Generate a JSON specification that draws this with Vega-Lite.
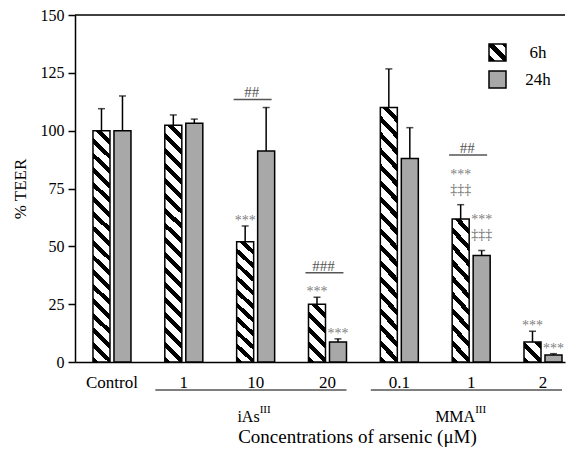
{
"$schema": "https://vega.github.io/schema/vega-lite/v6.json",
"width": 490, "height": 347,
"autosize": {"type": "none"},
"padding": {"left": 75, "top": 15, "right": 3, "bottom": 87},
"config": {"view": {"stroke": null}, "font": "Liberation Serif",
 "axis": {"labelFont": "Liberation Serif", "titleFont": "Liberation Serif"},
 "legend": {"labelFont": "Liberation Serif"},
 "text": {"font": "Liberation Serif"}},
"params": [{"name": "g6h", "value": {"gradient": "linear", "x1": 0, "y1": 1, "x2": 1, "y2": 0, "stops": [
 {"offset": 0, "color": "#000"}, {"offset": 0.18, "color": "#000"}, {"offset": 0.18, "color": "#fff"}, {"offset": 0.44, "color": "#fff"},
 {"offset": 0.44, "color": "#000"}, {"offset": 0.62, "color": "#000"}, {"offset": 0.62, "color": "#fff"}, {"offset": 0.88, "color": "#fff"},
 {"offset": 0.88, "color": "#000"}, {"offset": 1, "color": "#000"}]}}],
"datasets": {
 "bars": [
  {"grp": "Control", "time": "6h", "mean": 100, "hi": 109.5, "star": "", "dag": ""},
  {"grp": "Control", "time": "24h", "mean": 100, "hi": 115, "star": "", "dag": ""},
  {"grp": "iAs 1", "time": "6h", "mean": 102.3, "hi": 106.8, "star": "", "dag": ""},
  {"grp": "iAs 1", "time": "24h", "mean": 103.2, "hi": 105, "star": "", "dag": ""},
  {"grp": "iAs 10", "time": "6h", "mean": 52, "hi": 58.8, "star": "***", "dag": ""},
  {"grp": "iAs 10", "time": "24h", "mean": 91.2, "hi": 110, "star": "", "dag": ""},
  {"grp": "iAs 20", "time": "6h", "mean": 25, "hi": 28, "star": "***", "dag": ""},
  {"grp": "iAs 20", "time": "24h", "mean": 8.6, "hi": 10, "star": "***", "dag": ""},
  {"grp": "MMA 0.1", "time": "6h", "mean": 110, "hi": 126.7, "star": "", "dag": ""},
  {"grp": "MMA 0.1", "time": "24h", "mean": 88, "hi": 101.3, "star": "", "dag": ""},
  {"grp": "MMA 1", "time": "6h", "mean": 61.8, "hi": 68, "star": "***", "dag": "‡‡‡"},
  {"grp": "MMA 1", "time": "24h", "mean": 46, "hi": 48.2, "star": "***", "dag": "‡‡‡"},
  {"grp": "MMA 2", "time": "6h", "mean": 8.6, "hi": 13.3, "star": "***", "dag": ""},
  {"grp": "MMA 2", "time": "24h", "mean": 3, "hi": 3.6, "star": "***", "dag": ""}
 ],
 "sig": [
  {"grp": "iAs 10", "sig": "##", "ly": 113.5},
  {"grp": "iAs 20", "sig": "###", "ly": 38.6},
  {"grp": "MMA 1", "sig": "##", "ly": 89.5}
 ],
 "under": [
  {"grp": "iAs 1", "grp2": "iAs 20"},
  {"grp": "MMA 0.1", "grp2": "MMA 2"}
 ],
 "groups": [
  {"grp": "iAs 10", "name": "iAs"},
  {"grp": "MMA 1", "name": "MMA"}
 ]
},
"layer": [
 {
  "data": {"name": "bars"},
  "mark": {"type": "bar", "stroke": "black", "strokeWidth": 1.5},
  "encoding": {
   "x": {"field": "grp", "type": "nominal", "sort": null,
    "scale": {"domain": ["Control", "iAs 1", "iAs 10", "iAs 20", "MMA 0.1", "MMA 1", "MMA 2"], "paddingInner": 0.471, "paddingOuter": 0.146, "align": 0.857},
    "axis": {"title": "Concentrations of arsenic (μM)", "labelExpr": "indexof(datum.value, ' ') > 0 ? substring(datum.value, indexof(datum.value, ' ') + 1) : datum.value",
     "ticks": false, "tickSize": 0, "domainColor": "black", "domainWidth": 1.5, "labelFont": "Liberation Serif", "labelFontSize": 17, "labelColor": "black", "labelPadding": 12, "labelAngle": 0,
     "titleFont": "Liberation Serif", "titleFontSize": 19, "titleFontWeight": "normal", "titleColor": "black", "titleX": 282, "titleY": 80, "titleBaseline": "alphabetic"}},
   "xOffset": {"field": "time", "type": "nominal", "sort": null, "scale": {"domain": ["6h", "24h"], "paddingInner": 0.19, "paddingOuter": 0}},
   "y": {"field": "mean", "type": "quantitative", "scale": {"domain": [0, 150], "nice": false},
    "axis": {"values": [0, 25, 50, 75, 100, 125, 150], "title": "% TEER", "grid": false, "tickSize": 7, "tickWidth": 1.5, "tickColor": "black",
     "domainColor": "black", "domainWidth": 1.5, "labelFont": "Liberation Serif", "labelFontSize": 16, "labelColor": "black", "labelPadding": 4,
     "titleFont": "Liberation Serif", "titleFontSize": 17, "titleFontWeight": "normal", "titleColor": "black", "titlePadding": 11}},
   "fill": {
    "condition": [
     {"test": "datum.time == '6h' && datum.mean > 90", "value": {"gradient": "linear", "x1": 0, "y1": 1, "x2": 0.0755, "y2": -0.0655, "stops": [
      {"offset": 0, "color": "#000"}, {"offset": 0.0235, "color": "#000"}, {"offset": 0.0235, "color": "#fff"}, {"offset": 0.0588, "color": "#fff"},
      {"offset": 0.0588, "color": "#000"}, {"offset": 0.0824, "color": "#000"}, {"offset": 0.0824, "color": "#fff"}, {"offset": 0.1176, "color": "#fff"},
      {"offset": 0.1176, "color": "#000"}, {"offset": 0.1412, "color": "#000"}, {"offset": 0.1412, "color": "#fff"}, {"offset": 0.1765, "color": "#fff"},
      {"offset": 0.1765, "color": "#000"}, {"offset": 0.2, "color": "#000"}, {"offset": 0.2, "color": "#fff"}, {"offset": 0.2353, "color": "#fff"},
      {"offset": 0.2353, "color": "#000"}, {"offset": 0.2588, "color": "#000"}, {"offset": 0.2588, "color": "#fff"}, {"offset": 0.2941, "color": "#fff"},
      {"offset": 0.2941, "color": "#000"}, {"offset": 0.3176, "color": "#000"}, {"offset": 0.3176, "color": "#fff"}, {"offset": 0.3529, "color": "#fff"},
      {"offset": 0.3529, "color": "#000"}, {"offset": 0.3765, "color": "#000"}, {"offset": 0.3765, "color": "#fff"}, {"offset": 0.4118, "color": "#fff"},
      {"offset": 0.4118, "color": "#000"}, {"offset": 0.4353, "color": "#000"}, {"offset": 0.4353, "color": "#fff"}, {"offset": 0.4706, "color": "#fff"},
      {"offset": 0.4706, "color": "#000"}, {"offset": 0.4941, "color": "#000"}, {"offset": 0.4941, "color": "#fff"}, {"offset": 0.5294, "color": "#fff"},
      {"offset": 0.5294, "color": "#000"}, {"offset": 0.5529, "color": "#000"}, {"offset": 0.5529, "color": "#fff"}, {"offset": 0.5882, "color": "#fff"},
      {"offset": 0.5882, "color": "#000"}, {"offset": 0.6118, "color": "#000"}, {"offset": 0.6118, "color": "#fff"}, {"offset": 0.6471, "color": "#fff"},
      {"offset": 0.6471, "color": "#000"}, {"offset": 0.6706, "color": "#000"}, {"offset": 0.6706, "color": "#fff"}, {"offset": 0.7059, "color": "#fff"},
      {"offset": 0.7059, "color": "#000"}, {"offset": 0.7294, "color": "#000"}, {"offset": 0.7294, "color": "#fff"}, {"offset": 0.7647, "color": "#fff"},
      {"offset": 0.7647, "color": "#000"}, {"offset": 0.7882, "color": "#000"}, {"offset": 0.7882, "color": "#fff"}, {"offset": 0.8235, "color": "#fff"},
      {"offset": 0.8235, "color": "#000"}, {"offset": 0.8471, "color": "#000"}, {"offset": 0.8471, "color": "#fff"}, {"offset": 0.8824, "color": "#fff"},
      {"offset": 0.8824, "color": "#000"}, {"offset": 0.9059, "color": "#000"}, {"offset": 0.9059, "color": "#fff"}, {"offset": 0.9412, "color": "#fff"},
      {"offset": 0.9412, "color": "#000"}, {"offset": 0.9647, "color": "#000"}, {"offset": 0.9647, "color": "#fff"}, {"offset": 1, "color": "#fff"}]}},
     {"test": "datum.time == '6h' && datum.mean > 40 && datum.mean <= 90", "value": {"gradient": "linear", "x1": 0, "y1": 1, "x2": 0.1442, "y2": -0.111, "stops": [
      {"offset": 0, "color": "#000"}, {"offset": 0.04, "color": "#000"}, {"offset": 0.04, "color": "#fff"}, {"offset": 0.1, "color": "#fff"},
      {"offset": 0.1, "color": "#000"}, {"offset": 0.14, "color": "#000"}, {"offset": 0.14, "color": "#fff"}, {"offset": 0.2, "color": "#fff"},
      {"offset": 0.2, "color": "#000"}, {"offset": 0.24, "color": "#000"}, {"offset": 0.24, "color": "#fff"}, {"offset": 0.3, "color": "#fff"},
      {"offset": 0.3, "color": "#000"}, {"offset": 0.34, "color": "#000"}, {"offset": 0.34, "color": "#fff"}, {"offset": 0.4, "color": "#fff"},
      {"offset": 0.4, "color": "#000"}, {"offset": 0.44, "color": "#000"}, {"offset": 0.44, "color": "#fff"}, {"offset": 0.5, "color": "#fff"},
      {"offset": 0.5, "color": "#000"}, {"offset": 0.54, "color": "#000"}, {"offset": 0.54, "color": "#fff"}, {"offset": 0.6, "color": "#fff"},
      {"offset": 0.6, "color": "#000"}, {"offset": 0.64, "color": "#000"}, {"offset": 0.64, "color": "#fff"}, {"offset": 0.7, "color": "#fff"},
      {"offset": 0.7, "color": "#000"}, {"offset": 0.74, "color": "#000"}, {"offset": 0.74, "color": "#fff"}, {"offset": 0.8, "color": "#fff"},
      {"offset": 0.8, "color": "#000"}, {"offset": 0.84, "color": "#000"}, {"offset": 0.84, "color": "#fff"}, {"offset": 0.9, "color": "#fff"},
      {"offset": 0.9, "color": "#000"}, {"offset": 0.94, "color": "#000"}, {"offset": 0.94, "color": "#fff"}, {"offset": 1, "color": "#fff"}]}},
     {"test": "datum.time == '6h' && datum.mean > 15 && datum.mean <= 40", "value": {"gradient": "linear", "x1": 0, "y1": 1, "x2": 0.349, "y2": -0.1908, "stops": [
      {"offset": 0, "color": "#000"}, {"offset": 0.08, "color": "#000"}, {"offset": 0.08, "color": "#fff"}, {"offset": 0.2, "color": "#fff"},
      {"offset": 0.2, "color": "#000"}, {"offset": 0.28, "color": "#000"}, {"offset": 0.28, "color": "#fff"}, {"offset": 0.4, "color": "#fff"},
      {"offset": 0.4, "color": "#000"}, {"offset": 0.48, "color": "#000"}, {"offset": 0.48, "color": "#fff"}, {"offset": 0.6, "color": "#fff"},
      {"offset": 0.6, "color": "#000"}, {"offset": 0.68, "color": "#000"}, {"offset": 0.68, "color": "#fff"}, {"offset": 0.8, "color": "#fff"},
      {"offset": 0.8, "color": "#000"}, {"offset": 0.88, "color": "#000"}, {"offset": 0.88, "color": "#fff"}, {"offset": 1, "color": "#fff"}]}},
     {"test": "datum.time == '6h' && datum.mean <= 15", "value": {"gradient": "linear", "x1": 0, "y1": 1, "x2": 0.913, "y2": -0.074, "stops": [
      {"offset": 0, "color": "#000"}, {"offset": 0.16, "color": "#000"}, {"offset": 0.16, "color": "#fff"}, {"offset": 0.4, "color": "#fff"},
      {"offset": 0.4, "color": "#000"}, {"offset": 0.56, "color": "#000"}, {"offset": 0.56, "color": "#fff"}, {"offset": 0.8, "color": "#fff"},
      {"offset": 0.8, "color": "#000"}, {"offset": 0.96, "color": "#000"}, {"offset": 0.96, "color": "#fff"}, {"offset": 1, "color": "#fff"}]}}
    ],
    "field": "time", "type": "nominal", "sort": null,
    "scale": {"domain": ["6h", "24h"], "range": [{"expr": "g6h"}, "#a8a8a8"]},
    "legend": {"orient": "none", "legendX": 413, "legendY": 28, "title": null, "symbolType": "square", "symbolSize": 289,
     "symbolStrokeColor": "black", "symbolStrokeWidth": 1.5, "labelFontSize": 17, "labelColor": "black", "labelFont": "Liberation Serif",
     "labelAlign": "center", "labelOffset": 31, "rowPadding": 4}
   }
  }
 },
 {
  "data": {"name": "bars"},
  "mark": {"type": "rule", "stroke": "black", "strokeWidth": 1.5},
  "encoding": {
   "x": {"field": "grp", "type": "nominal"},
   "xOffset": {"field": "time", "type": "nominal"},
   "y": {"field": "mean", "type": "quantitative", "scale": {"domain": [0, 150], "nice": false}},
   "y2": {"field": "hi"}
  }
 },
 {
  "data": {"name": "bars"},
  "mark": {"type": "tick", "orient": "horizontal", "size": 7, "thickness": 1.5, "color": "black"},
  "encoding": {
   "x": {"field": "grp", "type": "nominal"},
   "xOffset": {"field": "time", "type": "nominal"},
   "y": {"field": "hi", "type": "quantitative", "scale": {"domain": [0, 150], "nice": false}}
  }
 },
 {
  "data": {"values": [{"top": 150}]},
  "mark": {"type": "rule", "stroke": "black", "strokeWidth": 1.5},
  "encoding": {"y": {"field": "top", "type": "quantitative", "scale": {"domain": [0, 150], "nice": false}}}
 },
 {
  "data": {"name": "bars"},
  "transform": [{"filter": "datum.dag != ''"}],
  "mark": {"type": "text", "fontSize": 14, "color": "#666", "baseline": "alphabetic", "dy": -11},
  "encoding": {
   "x": {"field": "grp", "type": "nominal"},
   "xOffset": {"field": "time", "type": "nominal"},
   "y": {"field": "hi", "type": "quantitative", "scale": {"domain": [0, 150], "nice": false}},
   "text": {"field": "dag"}
  }
 },
 {
  "data": {"name": "bars"},
  "transform": [{"filter": "datum.star != '' && datum.dag == ''"}],
  "mark": {"type": "text", "fontSize": 14, "color": "#808080", "baseline": "alphabetic", "dy": -1},
  "encoding": {
   "x": {"field": "grp", "type": "nominal"},
   "xOffset": {"field": "time", "type": "nominal"},
   "y": {"field": "hi", "type": "quantitative", "scale": {"domain": [0, 150], "nice": false}},
   "text": {"field": "star"}
  }
 },
 {
  "data": {"name": "bars"},
  "transform": [{"filter": "datum.star != '' && datum.dag != ''"}],
  "mark": {"type": "text", "fontSize": 14, "color": "#808080", "baseline": "alphabetic", "dy": -26},
  "encoding": {
   "x": {"field": "grp", "type": "nominal"},
   "xOffset": {"field": "time", "type": "nominal"},
   "y": {"field": "hi", "type": "quantitative", "scale": {"domain": [0, 150], "nice": false}},
   "text": {"field": "star"}
  }
 },
 {
  "data": {"name": "sig"},
  "mark": {"type": "rule", "stroke": "#555", "strokeWidth": 1.5},
  "encoding": {
   "x": {"field": "grp", "type": "nominal", "bandPosition": -0.08},
   "x2": {"field": "grp", "bandPosition": 0.92},
   "y": {"field": "ly", "type": "quantitative", "scale": {"domain": [0, 150], "nice": false}}
  }
 },
 {
  "data": {"name": "sig"},
  "mark": {"type": "text", "fontSize": 15, "color": "#555", "baseline": "alphabetic", "dx": -4, "dy": -2},
  "encoding": {
   "x": {"field": "grp", "type": "nominal"},
   "y": {"field": "ly", "type": "quantitative", "scale": {"domain": [0, 150], "nice": false}},
   "text": {"field": "sig"}
  }
 },
 {
  "data": {"name": "under"},
  "mark": {"type": "rule", "stroke": "black", "strokeWidth": 1, "yOffset": 28},
  "encoding": {
   "x": {"field": "grp", "type": "nominal", "bandPosition": -0.25},
   "x2": {"field": "grp2", "bandPosition": 1.0},
   "y": {"datum": 0, "scale": {"domain": [0, 150], "nice": false}}
  }
 },
 {
  "data": {"name": "groups"},
  "mark": {"type": "text", "fontSize": 16, "color": "black", "align": "right", "baseline": "alphabetic", "dx": 4, "dy": 60},
  "encoding": {
   "x": {"field": "grp", "type": "nominal"},
   "y": {"datum": 0, "scale": {"domain": [0, 150], "nice": false}},
   "text": {"field": "name"}
  }
 },
 {
  "data": {"name": "groups"},
  "mark": {"type": "text", "fontSize": 11, "color": "black", "align": "left", "baseline": "alphabetic", "dx": 4, "dy": 51},
  "encoding": {
   "x": {"field": "grp", "type": "nominal"},
   "y": {"datum": 0, "scale": {"domain": [0, 150], "nice": false}},
   "text": {"value": "III"}
  }
 }
]
}
